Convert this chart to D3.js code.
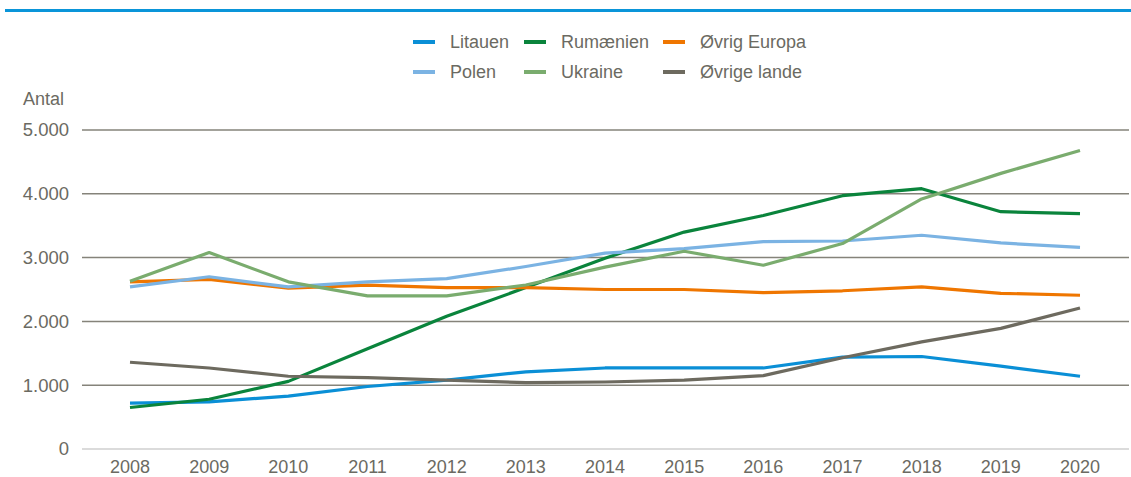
<!DOCTYPE html>
<html>
<head>
<meta charset="utf-8">
<script src="https://cdn.jsdelivr.net/npm/d3@7"></script>
<style>
  body { margin: 0; background: #fff; }
  svg { display: block; font-family: "Liberation Sans", Arial, sans-serif; }
</style>
</head>
<body>
<svg id="chart" width="1131" height="477"></svg>
<script>
// ---- Data ----
const years = [2008, 2009, 2010, 2011, 2012, 2013, 2014, 2015, 2016, 2017, 2018, 2019, 2020];

const litauen     = [720, 740, 830, 980, 1080, 1210, 1270, 1270, 1270, 1440, 1450, 1300, 1140];
const rumaenien   = [650, 780, 1060, 1570, 2080, 2530, 2990, 3400, 3660, 3970, 4080, 3720, 3690];
const oevrigEur   = [2620, 2660, 2520, 2570, 2530, 2530, 2500, 2500, 2450, 2480, 2540, 2440, 2410];
const polen       = [2540, 2700, 2540, 2620, 2670, 2860, 3070, 3140, 3250, 3260, 3350, 3230, 3160];
const ukraine     = [2630, 3080, 2620, 2400, 2400, 2570, 2850, 3100, 2880, 3220, 3920, 4320, 4680];
const oevrigeLande = [1360, 1270, 1140, 1120, 1080, 1040, 1050, 1080, 1150, 1430, 1680, 1890, 2210];

const yTicks = [0, 1000, 2000, 3000, 4000, 5000];

const series = [
    { name: "Litauen", values: litauen, color: "#0a8fd6", row: 0, col: 0 },
    { name: "Rumænien", values: rumaenien, color: "#0a843c", row: 0, col: 1 },
    { name: "Øvrig Europa", values: oevrigEur, color: "#ef7600", row: 0, col: 2 },
    { name: "Polen", values: polen, color: "#7bb3e3", row: 1, col: 0 },
    { name: "Ukraine", values: ukraine, color: "#7aac6e", row: 1, col: 1 },
    { name: "Øvrige lande", values: oevrigeLande, color: "#6d6a5f" , row: 1, col: 2 }
];

// ---- Layout ----
const svg = d3.select("#chart");
const textColor = "#6b6a62";

const xScale = d3.scalePoint()
    .domain(years)
    .range([130, 1080]);

const yScale = d3.scaleLinear()
    .domain([0, 5000])
    .range([449, 130]);

// ---- Top rule ----
svg.append("line")
    .attr("x1", 5).attr("x2", 1131)
    .attr("y1", 10.5).attr("y2", 10.5)
    .attr("stroke", "#0a95d9")
    .attr("stroke-width", 3);

// ---- Gridlines ----
svg.append("g")
    .selectAll("line")
    .data(yTicks)
    .join("line")
    .attr("x1", 82).attr("x2", 1129)
    .attr("y1", d => yScale(d)).attr("y2", d => yScale(d))
    .attr("stroke", d => d === 0 ? "#cfcfcf" : "#85837a")
    .attr("stroke-width", 1.5);

// ---- Y axis labels ----
const fmt = d => d3.format(",")(d).replace(/,/g, ".");

svg.append("g")
    .selectAll("text")
    .data(yTicks)
    .join("text")
    .attr("x", 69)
    .attr("y", d => yScale(d))
    .attr("dy", "0.35em")
    .attr("text-anchor", "end")
    .attr("fill", textColor)
    .style("font-size", "18.5px")
    .text(fmt);

svg.append("text")
    .attr("x", 23).attr("y", 105)
    .attr("fill", textColor)
    .style("font-size", "18px")
    .text("Antal");

// ---- X axis labels ----
svg.append("g")
    .selectAll("text")
    .data(years)
    .join("text")
    .attr("x", d => xScale(d))
    .attr("y", 473)
    .attr("text-anchor", "middle")
    .attr("fill", textColor)
    .style("font-size", "18px")
    .text(d => d);

// ---- Lines ----
const line = d3.line()
    .x((d, i) => xScale(years[i]))
    .y(d => yScale(d));

svg.append("g")
    .selectAll("path")
    .data(series)
    .join("path")
    .attr("d", d => line(d.values))
    .attr("fill", "none")
    .attr("stroke", d => d.color)
    .attr("stroke-width", 3.2)
    .attr("stroke-linejoin", "round");

// ---- Legend ----
const legendX = [413, 524, 663];
const legendY = [42, 72];

const legend = svg.append("g")
    .selectAll("g")
    .data(series)
    .join("g")
    .attr("transform", d => `translate(${legendX[d.col]},${legendY[d.row]})`);

legend.append("line")
    .attr("x1", 0).attr("x2", 22)
    .attr("y1", 0).attr("y2", 0)
    .attr("stroke", d => d.color)
    .attr("stroke-width", 4);

legend.append("text")
    .attr("x", 37)
    .attr("dy", "0.35em")
    .attr("fill", textColor)
    .style("font-size", "18px")
    .text(d => d.name);
</script>
</body>
</html>
